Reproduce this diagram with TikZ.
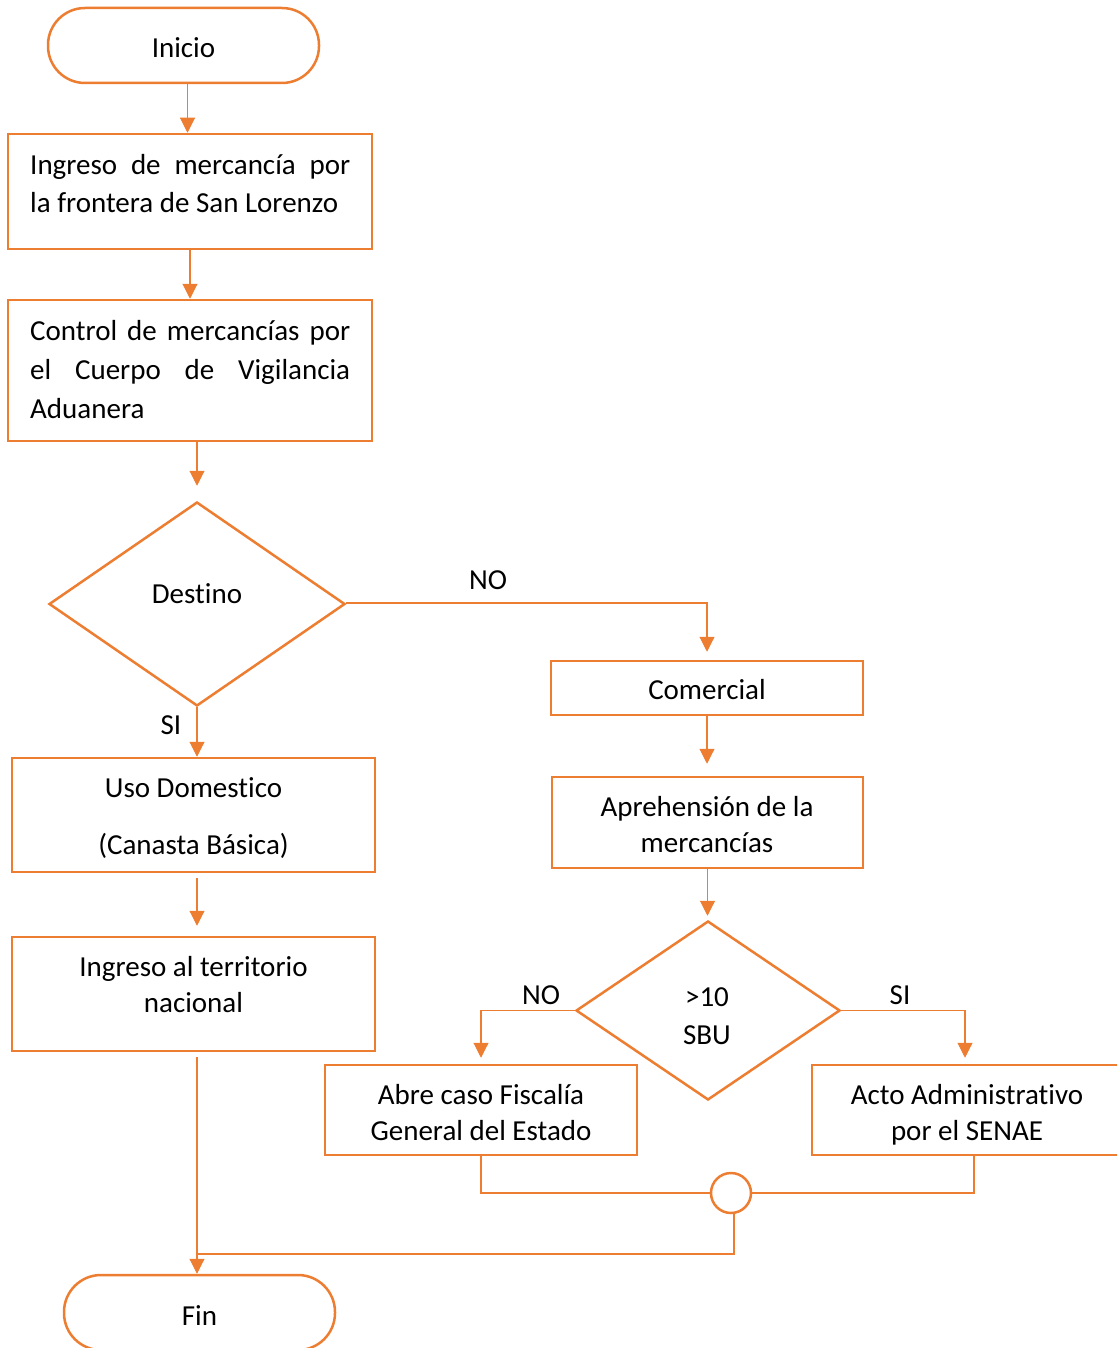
\documentclass[tikz,border=0pt]{standalone}
\usepackage{fontspec}
\setmainfont{Carlito}[Ligatures=NoCommon]
\usetikzlibrary{arrows.meta,shapes.geometric}
\definecolor{org}{HTML}{ED7D31}
\newcommand\jline[1]{\hbox to 320pt{\strut #1}}
\begin{document}
\begin{tikzpicture}[x=1pt,y=-1pt,
  box/.style={draw=org,line width=2.5pt,rectangle,inner sep=0},
  term/.style={draw=org,line width=2.5pt,rounded corners=37pt,minimum width=271pt,minimum height=75pt,inner sep=0,text height=25pt,text depth=0pt,font=\fontsize{29}{36}\selectfont},
  dec/.style={draw=org,line width=2.5pt,diamond,inner sep=0},
  txt/.style={inner sep=0,font=\fontsize{29}{36}\selectfont,align=center},
  lbl/.style={inner sep=0,font=\fontsize{29}{36}\selectfont},
  conn/.style={draw=org,line width=1.1pt},
  arr/.style={conn,-{Triangle[width=15pt,length=15pt]}}]
\useasboundingbox (0,0) rectangle (1117,1348);
\clip (0,0) rectangle (1117,1348);

% shapes
\node[term] (inicio) at (183.5,45.5) {Inicio};
\node[box,minimum width=364pt,minimum height=115pt] (b1) at (190,191.5) {};
\node[txt,align=left,anchor=west,font=\fontsize{29}{38}\selectfont] (b1t) at (30,185.5)
  {\jline{Ingreso\hfill de\hfill mercancía\hfill por}\\\strut la frontera de San Lorenzo};
\node[box,minimum width=364pt,minimum height=141pt] (b2) at (190,370.5) {};
\node[txt,align=left,anchor=west,font=\fontsize{29}{39}\selectfont] (b2t) at (30,371.5)
  {\jline{Control\hfill de\hfill mercancías\hfill por}\\\jline{el\hfill Cuerpo\hfill de\hfill Vigilancia}\\\strut Aduanera};
\node[dec,minimum width=296pt,minimum height=204pt] (dest) at (197,604) {};
\node[txt] (destt) at (197,596.5) {\strut Destino};
\node[box,minimum width=363pt,minimum height=114pt] (uso) at (193.5,815) {};
\node[txt] (usot) at (193.5,819) {\strut Uso Domestico\\[21pt]\strut (Canasta Básica)};
\node[box,minimum width=363pt,minimum height=114pt] (terr) at (193.5,994) {};
\node[txt] (terrt) at (193.5,987.5) {\strut Ingreso al territorio\\\strut nacional};
\node[term] (fin) at (199.5,1312.5) {Fin};

\node[box,minimum width=312pt,minimum height=54pt] (com) at (707,688) {};
\node[txt] (comt) at (707,692.5) {\strut Comercial};
\node[box,minimum width=311pt,minimum height=91pt] (apr) at (707.5,822.5) {};
\node[txt] (aprt) at (707,827.5) {\strut Aprehensión de la\\\strut mercancías};
\node[dec,minimum width=264pt,minimum height=179pt] (sbu) at (708,1010.5) {};
\node[txt,font=\fontsize{29}{38}\selectfont] (sbut) at (707,1017.5) {\strut >10\\\strut SBU};
\node[box,minimum width=312pt,minimum height=90pt] (abre) at (481,1110) {};
\node[txt] (abret) at (481,1115.5) {\strut Abre caso Fiscalía\\\strut General del Estado};
\node[box,minimum width=312pt,minimum height=90pt] (acto) at (968,1110) {};
\node[txt] (actot) at (967,1115.5) {\strut Acto Administrativo\\\strut por el SENAE};
\node[circle,draw=org,line width=2.5pt,minimum size=40pt,inner sep=0] (jn) at (731,1193) {};

\coordinate (spine) at (197,1254);

% connectors
\draw[arr] ([xshift=4pt]inicio.south) -- ([xshift=4pt]inicio.south |- b1.north);
\draw[arr] (b1.south) -- (b2.north);
\draw[arr,shorten >=15pt] (b2.south -| dest.north) -- (dest.north);
\draw[arr,shorten >=8pt] ([yshift=1pt]dest.east) -| (com.north);
\node[lbl] (no1) at (488,580) {NO};
\draw[arr] (dest.south) -- (dest.south |- uso.north);
\node[lbl] (si1) at (171,725) {SI};
\draw[arr,shorten <=5pt,shorten >=10pt] (uso.south -| dest.south) -- (dest.south |- terr.north);
\draw[arr,shorten <=5pt] (terr.south -| spine) -- (fin.north -| spine);
\draw[arr,shorten >=12pt] (com.south) -- (com.south |- apr.north);
\draw[arr,shorten >=4pt] (apr.south) -- (apr.south |- sbu.north);
\draw[arr,shorten >=6pt] (sbu.west) -| (abre.north);
\node[lbl] (no2) at (541,995) {NO};
\draw[arr,shorten >=6pt] (sbu.east) -| ([xshift=-3pt]acto.north);
\node[lbl] (si2) at (900,995) {SI};
\draw[conn] (abre.south) |- (jn.west);
\draw[conn] ([xshift=6pt]acto.south) |- (jn.east);
\draw[conn] ([xshift=3pt]jn.south) |- (spine);
\end{tikzpicture}
\end{document}
